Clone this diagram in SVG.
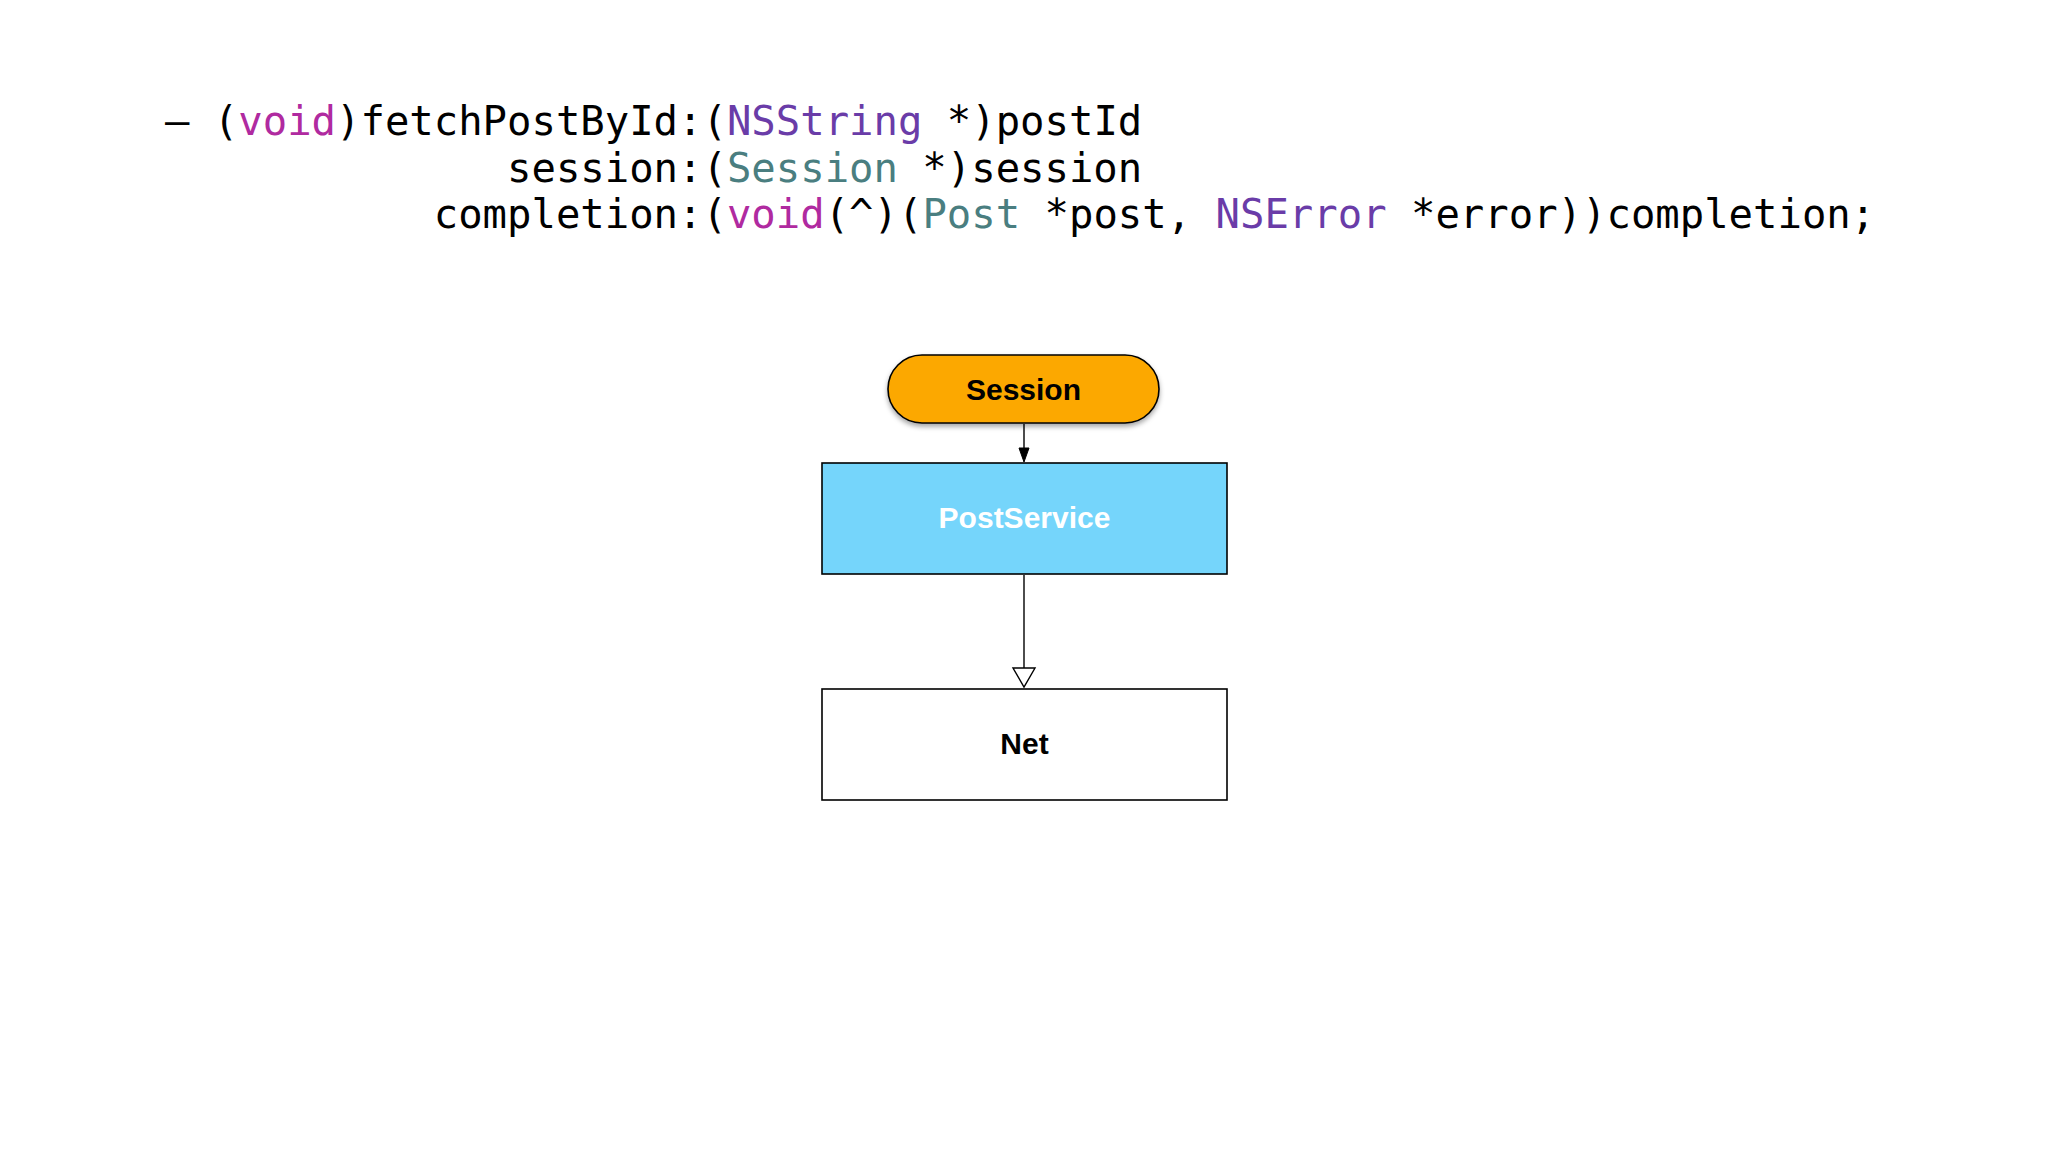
<svg xmlns="http://www.w3.org/2000/svg" width="2048" height="1152" viewBox="0 0 2048 1152">
  <style>
    .code { font-family: "DejaVu Sans Mono", "Liberation Mono", monospace; font-size: 40.6px; fill: #000000; white-space: pre; }
    .kw { fill: #B02AA0; }
    .sys { fill: #6A3CA8; }
    .proj { fill: #4A7E80; }
    .label { font-family: "Liberation Sans", Arial, sans-serif; font-weight: bold; font-size: 30px; text-anchor: middle; }
    .box { stroke: #000000; stroke-width: 1.6; }
    .conn { stroke: #000000; stroke-width: 1.4; fill: none; }
  </style>
  <defs>
    <filter id="shadow" x="-10%" y="-20%" width="120%" height="150%">
      <feDropShadow dx="0" dy="3" stdDeviation="2.5" flood-color="#000000" flood-opacity="0.35"/>
    </filter>
  </defs>
  <rect x="0" y="0" width="2048" height="1152" fill="#FFFFFF"/>

  <g id="code">
    <text class="code" x="165" y="135" xml:space="preserve">– (<tspan class="kw">void</tspan>)fetchPostById:(<tspan class="sys">NSString</tspan> *)postId</text>
    <text class="code" x="165" y="182" xml:space="preserve">              session:(<tspan class="proj">Session</tspan> *)session</text>
    <text class="code" x="165" y="228" xml:space="preserve">           completion:(<tspan class="kw">void</tspan>(^)(<tspan class="proj">Post</tspan> *post, <tspan class="sys">NSError</tspan> *error))completion;</text>
  </g>

  <g id="connectors">
    <line class="conn" x1="1024" y1="424" x2="1024" y2="449"/>
    <path d="M1019,448 L1029,448 L1024,462 Z" fill="#000000" stroke="#000000" stroke-width="1"/>
    <line class="conn" x1="1024" y1="575" x2="1024" y2="668"/>
    <path d="M1013,668 L1035,668 L1024,687 Z" fill="#FFFFFF" stroke="#000000" stroke-width="1.4"/>
  </g>

  <g id="node-session">
    <rect class="box" x="888" y="355" width="271" height="68" rx="34" ry="34" fill="#FCA800" filter="url(#shadow)"/>
    <text class="label" x="1023.5" y="400" fill="#000000">Session</text>
  </g>

  <g id="node-postservice">
    <rect class="box" x="822" y="463" width="405" height="111" fill="#75D5FB"/>
    <text class="label" x="1024.5" y="528" fill="#FFFFFF">PostService</text>
  </g>

  <g id="node-net">
    <rect class="box" x="822" y="689" width="405" height="111" fill="#FFFFFF"/>
    <text class="label" x="1024.5" y="754" fill="#000000">Net</text>
  </g>
</svg>
